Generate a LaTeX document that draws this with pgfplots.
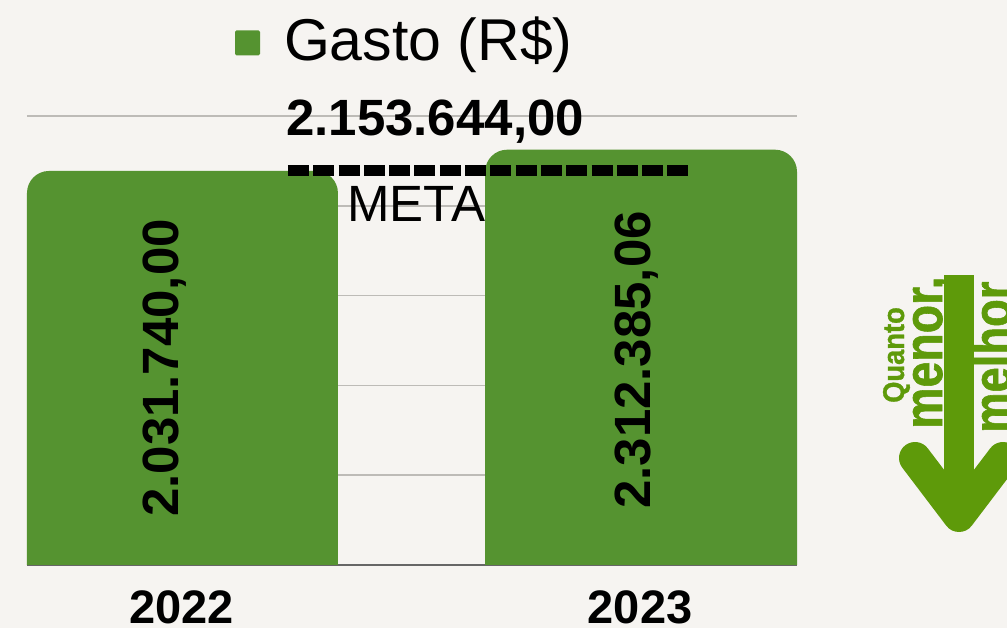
\documentclass[border=0pt]{standalone}
\usepackage{pgfplots}
\pgfplotsset{compat=1.18}
\usepackage{fontspec}
\setmainfont{Liberation Sans}
\newfontfamily\arrowfont[FakeBold=1.2]{Liberation Sans Bold}
\definecolor{bargreen}{HTML}{559330}
\definecolor{arrowgreen}{HTML}{5E9A0A}
\definecolor{paper}{HTML}{F6F4F1}
\definecolor{gridgray}{HTML}{BDBBB7}
\newcommand{\fs}[1]{\fontsize{#1}{#1}\selectfont}
\begin{document}
\begin{tikzpicture}[x=1pt,y=1pt]
\clip (0,0) rectangle (1007,628);
\fill[paper] (0,0) rectangle (1007,628);
\begin{axis}[
  at={(27pt,63pt)}, anchor=south west,
  width=770pt, height=449pt, scale only axis,
  xmin=-0.339, xmax=1.34,
  ymin=0, ymax=2500,
  xtick={0,1}, xticklabels={2022,2023},
  ytick={0,500,1000,1500,2000,2500},
  yticklabels={},
  major tick length=0pt,
  axis y line*=left,
  axis x line*=bottom,
  y axis line style={draw=none},
  x axis line style={draw=black!60,line width=1.5pt,-},
  ymajorgrids, grid style={gridgray,line width=1.7pt},
  xticklabel style={font=\fs{47}\bfseries, yshift=-25pt, xshift=-1pt, text height=33pt, text depth=0pt, inner sep=0pt},
  legend style={at={(208pt,528pt)}, anchor=south west, draw=none, fill=none, font=\fs{59}, inner sep=0pt, outer sep=0pt},
  legend cell align=left,
  clip=true,
]
% bar of 2022; the polygon runs below ymin so that only its upper corners stay round
\addplot[fill=bargreen, draw=none, rounded corners=22pt,
  legend image code/.code={\fill[bargreen,rounded corners=1.5pt] (0pt,-16pt) rectangle (25pt,9pt);}]
  coordinates {(-0.339,-150) (-0.339,2194) (0.339,2194) (0.339,-150)} -- cycle;
\addlegendentry{\hspace*{22pt}Gasto (R\$)}
\addplot[fill=bargreen, draw=none, rounded corners=22pt, forget plot]
  coordinates {(0.660,-150) (0.660,2312.385) (1.340,2312.385) (1.340,-150)} -- cycle;
\addplot[black, line width=11pt, dash pattern=on 21pt off 4.3pt, forget plot]
  coordinates {(0.230,2199) (1.107,2199)};
\end{axis}
\node[rotate=90,font=\fs{51}\bfseries,inner sep=0pt] at (165,260) {2.031.740,00};
\node[rotate=90,font=\fs{51}\bfseries,inner sep=0pt] at (637,268) {2.312.385,06};
\node[anchor=base west,font=\fs{51}\bfseries,inner sep=0pt] at (286,492) {2.153.644,00};
\node[anchor=base west,font=\fs{51},inner sep=0pt] at (347,406) {META};
\begin{scope}[arrowgreen]
\node[rotate=90,anchor=base west,inner sep=0pt,font=\fs{30}\arrowfont] at (904,225) {\scalebox{.91}[1]{Quanto}};
\node[rotate=90,anchor=base west,inner sep=0pt,font=\fs{54}\arrowfont] at (942,199) {\scalebox{.86}[1]{menor,}};
\node[rotate=90,anchor=base west,inner sep=0pt,font=\fs{54}\arrowfont] at (1011,195) {\scalebox{.84}[1]{melhor}};
\fill (944,353) rectangle (974,120);
\draw[line width=32pt,line cap=round,line join=round] (915,170)--(959,112)--(1003,170);
\end{scope}
\end{tikzpicture}
\end{document}
